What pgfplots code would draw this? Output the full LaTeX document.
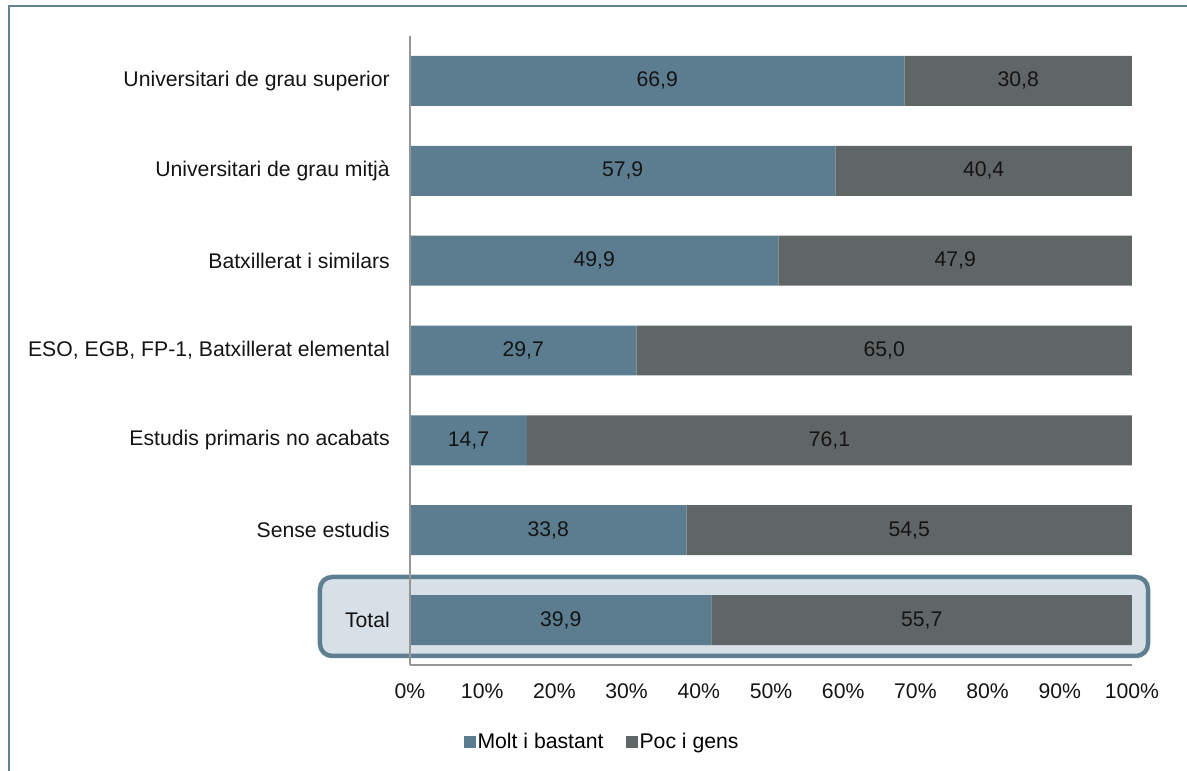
\documentclass[border=0pt]{standalone}
\usepackage{pgfplots}
\pgfplotsset{compat=1.18}
\usepackage{pgfplotstable}
\usepackage{fontspec}
\setmainfont{Liberation Sans}
\definecolor{cA}{RGB}{91,125,143}
\definecolor{cB}{RGB}{96,101,102}
\definecolor{boxfill}{RGB}{215,224,230}
\definecolor{boxline}{RGB}{94,127,146}
\definecolor{frameblue}{RGB}{98,131,150}
\definecolor{axgray}{RGB}{150,150,150}
\definecolor{txt}{RGB}{20,20,20}

\pgfplotstableread{
pos a b
0 39.9 55.7
1 33.8 54.5
2 14.7 76.1
3 29.7 65.0
4 49.9 47.9
5 57.9 40.4
6 66.9 30.8
}\datatable

\begin{document}
\begin{tikzpicture}[font=\fontsize{21.2}{25}\selectfont]
\useasboundingbox (-410pt,-106pt) rectangle (777pt,665pt);
\draw[frameblue, line width=2pt] (-400.5pt,-115pt) -- (-400.5pt,659pt) -- (785pt,659pt);
\draw[boxline, fill=boxfill, line width=4.5pt, rounded corners=12pt] (-90pt,9pt) rectangle (738pt,88pt);
\begin{axis}[at={(0pt,0pt)}, anchor=south west, scale only axis,
  width=722pt, height=629pt,
  xbar stacked, bar width=0.556,
  xmin=0, xmax=100, ymin=-0.5, ymax=6.5,
  axis x line*=bottom, axis y line*=left,
  axis line style={axgray, line width=1.3pt},
  axis on top,
  xtick={0,10,...,100},
  xticklabel={\pgfmathprintnumber{\tick}\%},
  ytick={0,1,2,3,4,5,6},
  yticklabels={Total, Sense estudis, Estudis primaris no acabats, {ESO, EGB, FP-1, Batxillerat elemental}, Batxillerat i similars, Universitari de grau mitjà, Universitari de grau superior},
  major tick length=0pt,
  /pgf/number format/assume math mode=true,
  tick label style={text=txt},
  xticklabel style={inner sep=0pt, anchor=north, yshift=-18pt},
  yticklabel style={inner sep=0pt, anchor=east, xshift=-20pt},
  legend columns=2,
  legend style={draw=none, fill=none, at={(0.266,-0.122)}, anchor=center,
    /tikz/every even column/.append style={column sep=20pt}},
  legend cell align=left,
  legend image code/.code={\fill[#1] (0pt,-6pt) rectangle (12pt,6pt);},
]
\addplot[fill=cA, draw=none] table[x expr={\thisrow{a}/(\thisrow{a}+\thisrow{b})*100}, y=pos] {\datatable};
\addplot[fill=cB, draw=none] table[x expr={\thisrow{b}/(\thisrow{a}+\thisrow{b})*100}, y=pos] {\datatable};
\legend{Molt i bastant, Poc i gens}
\end{axis}
\begin{axis}[at={(0pt,0pt)}, anchor=south west, scale only axis,
  width=722pt, height=629pt,
  xmin=0, xmax=100, ymin=-0.5, ymax=6.5, hide axis,
  nodes near coords, nodes near coords align={center},
  every node near coord/.append style={text=txt, anchor=center, inner sep=0pt},
  /pgf/number format/.cd, fixed, fixed zerofill, precision=1, use comma, assume math mode=true,
]
\addplot[draw=none, mark=none, nodes near coords, point meta=\thisrow{a}] table[x expr={\thisrow{a}/(\thisrow{a}+\thisrow{b})*50}, y=pos] {\datatable};
\addplot[draw=none, mark=none, nodes near coords, point meta=\thisrow{b}] table[x expr={50+\thisrow{a}/(\thisrow{a}+\thisrow{b})*50}, y=pos] {\datatable};
\end{axis}
\end{tikzpicture}
\end{document}
